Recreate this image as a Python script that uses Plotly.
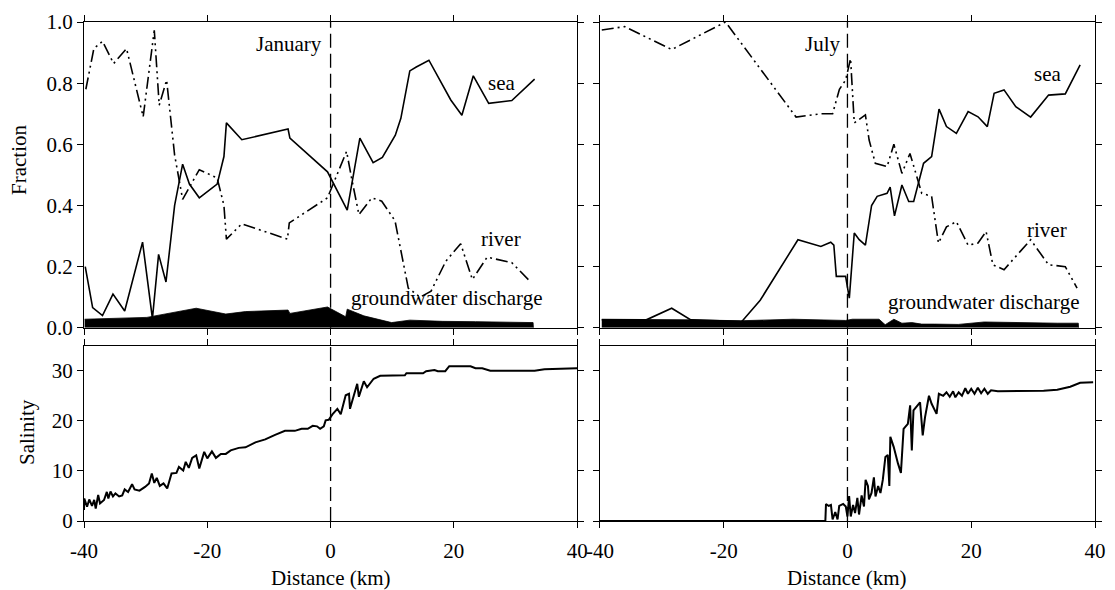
import plotly.graph_objects as go
from plotly.subplots import make_subplots

# ---------------- January fractions ----------------
jan_sea_x = [-39.8, -38.6, -37.0, -35.3, -33.4, -30.5, -28.9, -27.9, -26.7, -25.3, -24.0, -22.9, -21.3,
             -18.4, -17.3, -16.9, -14.4, -6.9, -6.6, -0.5, 2.7, 4.75, 6.9, 8.4, 10.5, 11.4, 12.85, 13.9,
             15.95, 17.4, 19.5, 21.3, 23.15, 25.65, 29.4, 33.1]
jan_sea_y = [0.20, 0.066, 0.04, 0.11, 0.055, 0.28, 0.03, 0.24, 0.15, 0.40, 0.535, 0.47, 0.425,
             0.47, 0.56, 0.67, 0.615, 0.65, 0.62, 0.51, 0.385, 0.62, 0.54, 0.557, 0.63, 0.685, 0.84, 0.853,
             0.875, 0.82, 0.745, 0.695, 0.824, 0.734, 0.743, 0.813]

jan_river_x = [-39.7, -38.4, -37.0, -35.2, -33.1, -30.4, -28.6, -27.8, -26.6, -25.3, -24.0, -21.3, -18.4,
               -17.3, -16.9, -14.4, -7.0, -6.7, -0.5, 2.6, 3.4, 4.6, 6.7, 8.3, 10.45, 12.6, 14.5, 16.3,
               18.7, 21.1, 23.0, 25.4, 29.4, 32.3]
jan_river_y = [0.78, 0.913, 0.937, 0.864, 0.913, 0.69, 0.973, 0.728, 0.81, 0.565, 0.42, 0.517, 0.49,
               0.40, 0.29, 0.34, 0.29, 0.343, 0.425, 0.577, 0.49, 0.37, 0.425, 0.414, 0.35, 0.13, 0.10, 0.12,
               0.218, 0.275, 0.158, 0.231, 0.213, 0.153]

jan_gw_x = [-39.9, -29.8, -21.8, -17.0, -13.8, -6.9, -6.6, -0.5, 2.45, 2.7, 5.4, 9.9, 12.85, 18.2, 23.5,
            32.85, 32.9]
jan_gw_y = [0.028, 0.034, 0.064, 0.045, 0.053, 0.058, 0.047, 0.068, 0.036, 0.061, 0.039, 0.017, 0.025,
            0.021, 0.02, 0.017, 0.0]

# ---------------- July fractions ----------------
jul_sea_x = [-39.7, -32.5, -28.4, -25.3, -17.1, -14.1, -8.0, -4.3, -2.7, -2.2, -1.8, -0.3, 0.3, 1.1, 1.9,
             2.9, 3.9, 4.8, 6.4, 6.9, 7.6, 8.8, 9.9, 10.7, 12.3, 13.6, 14.8, 16.0, 17.6, 19.5, 21.1, 22.6,
             23.7, 25.3, 27.2, 29.6, 32.5, 35.2, 37.6]
jul_sea_y = [0.026, 0.026, 0.064, 0.026, 0.02, 0.09, 0.288, 0.266, 0.28, 0.27, 0.168, 0.168, 0.097, 0.31,
             0.288, 0.27, 0.40, 0.43, 0.44, 0.46, 0.366, 0.467, 0.413, 0.413, 0.538, 0.56, 0.715, 0.658,
             0.636, 0.707, 0.69, 0.658, 0.767, 0.778, 0.723, 0.689, 0.761, 0.765, 0.86]

jul_river_x = [-39.7, -36.0, -28.4, -19.7, -8.3, -4.3, -2.4, -1.3, -0.3, 0.5, 1.1, 2.9, 3.5, 4.5, 6.4,
               7.5, 8.8, 10.1, 12.0, 13.6, 14.7, 16.0, 17.6, 19.5, 21.1, 22.4, 23.5, 25.3, 29.6, 32.5,
               35.2, 37.1]
jul_river_y = [0.974, 0.985, 0.91, 1.0, 0.689, 0.70, 0.70, 0.78, 0.81, 0.88, 0.67, 0.696, 0.614, 0.538,
               0.527, 0.60, 0.505, 0.57, 0.44, 0.43, 0.277, 0.33, 0.347, 0.27, 0.277, 0.315, 0.206, 0.19,
               0.288, 0.206, 0.20, 0.13]

jul_gw_x = [-39.7, -32.3, -25.3, -17.3, -8.8, -0.3, 0.8, 5.1, 6.1, 7.5, 8.8, 10.4, 12.0, 14.1, 17.9,
            22.1, 25.9, 33.9, 37.3, 37.35]
jul_gw_y = [0.028, 0.028, 0.026, 0.023, 0.028, 0.024, 0.028, 0.028, 0.01, 0.028, 0.015, 0.017, 0.012,
            0.012, 0.011, 0.019, 0.017, 0.015, 0.015, 0.0]

# ---------------- Salinity ----------------
jan_sal_x = [-40, -39.95, -39.5, -39.15, -38.7, -38.35, -38.1, -37.7, -37.4, -36.75, -36.3, -36.05, -35.7,
             -35.3, -34.9, -34.3, -33.8, -33.4, -32.85, -32.2, -31.8, -31.0, -30.1, -29.45, -29.0, -28.6,
             -28.2, -27.7, -27.1, -26.5, -25.8, -25.0, -24.6, -23.9, -23.5, -23.0, -22.45, -21.8, -21.3,
             -20.9, -20.5, -20.0, -19.25, -18.6, -17.8, -17.0, -16.2, -14.9, -13.8, -12.2, -10.6, -9.0,
             -7.4, -5.8, -4.7, -3.7, -2.9, -2.2, -1.7, -1.1, -0.8, -0.3, 0.3, 1.1, 1.65, 2.45, 2.99, 3.15,
             4.32, 4.59, 5.39, 5.92, 6.99, 8.05, 10.2, 12.05, 12.3, 15.0, 15.5, 16.85, 17.4, 18.6, 19.25,
             22.7, 23.5, 24.6, 25.9, 27.8, 33.1, 34.7, 40]
jan_sal_y = [2.2, 4.5, 2.85, 4.3, 3.0, 4.2, 2.5, 5.2, 3.5, 4.2, 5.8, 4.5, 5.9,
             4.9, 5.5, 4.9, 5.1, 6.3, 5.8, 7.35, 6.3, 6.05, 6.8, 7.5, 9.5, 7.6,
             8.6, 7.0, 7.5, 6.5, 9.5, 9.6, 10.8, 10.1, 11.8, 10.6, 12.6, 13.1, 10.5,
             12.2, 13.8, 12.5, 13.9, 12.6, 13.4, 13.4, 14.1, 14.6, 14.7, 15.7, 16.3, 17.2,
             18.0, 18.0, 18.4, 18.4, 19.0, 18.9, 18.4, 18.9, 20.1, 20.2, 21.3, 22.4, 21.3, 25.1, 25.4, 22.4,
             27.4, 24.8, 27.9, 26.7, 28.4, 29.0, 29.1, 29.1, 29.5, 29.5, 29.9, 30.15, 29.9, 29.9, 30.9,
             30.9, 30.5, 30.5, 30.0, 30.0, 30.0, 30.3, 30.5]

jul_sal_x = [-40, -3.57, -3.47, -3.04, -2.67, -2.4, -1.97, -1.6, -1.33, -0.69, -0.27, 0, 0.27, 0.53, 0.91,
             1.23, 1.6, 1.87, 2.29, 2.67, 2.93, 3.31, 3.47, 3.89, 4.27, 4.53, 4.96, 5.33, 5.71, 6.13, 6.51,
             6.77, 6.93, 7.47, 8.16, 8.64, 9.07, 9.76, 10.13, 10.4, 10.67, 11.73, 12.16, 12.53, 13.17, 13.6,
             14.4, 14.77, 15.47, 16.0, 16.53, 17.07, 17.44, 17.97, 18.5, 19.04, 19.47, 20.0, 20.53, 21.07,
             21.6, 22.13, 22.67, 23.2, 24.3, 26.4, 31.7, 33.9, 36.0, 37.6, 39.7]
jul_sal_y = [0, 0, 3.4, 3.0, 3.2, 0.3, 1.8, 0.3, 3.0, 3.4, 2.9, 0.9, 5.0, 0.9, 3.2,
             1.6, 4.6, 1.3, 5.1, 2.9, 8.2, 7.0, 4.3, 5.6, 8.7, 4.9, 7.0, 5.6, 8.2, 12.8, 13.2,
             7.0, 16.8, 14.8, 11.5, 9.6, 18.4, 19.4, 23.1, 14.1, 22.1, 23.7, 17.1, 20.7, 25.0, 23.4,
             21.4, 25.4, 25.0, 25.7, 24.8, 25.9, 24.7, 25.7, 25.0, 26.5, 25.4, 26.4, 25.4, 26.6,
             25.5, 26.4, 25.4, 26.1, 25.9, 25.9, 26.0, 26.2, 26.8, 27.6, 27.7]

for a, b in [(jan_sea_x, jan_sea_y), (jan_river_x, jan_river_y), (jan_gw_x, jan_gw_y),
             (jul_sea_x, jul_sea_y), (jul_river_x, jul_river_y), (jul_gw_x, jul_gw_y),
             (jan_sal_x, jan_sal_y), (jul_sal_x, jul_sal_y)]:
    assert len(a) == len(b), (len(a), len(b))

x_ticks = [-40, -20, 0, 20, 40]
x_tick_text = ["-40", "-20", "0", "20", "40"]
frac_ticks = [0.0, 0.2, 0.4, 0.6, 0.8, 1.0]
frac_tick_text = ["0.0", "0.2", "0.4", "0.6", "0.8", "1.0"]
sal_ticks = [0, 10, 20, 30]

FONT = "Liberation Serif, Times New Roman, serif"
RIVER_DASH = "12px,4px,2px,4px,2px,4px"
VLINE_DASH = "14px,6px"

fig = make_subplots(rows=2, cols=2)

def add_panel(row, col, sea_x, sea_y, river_x, river_y, gw_x, gw_y):
    fig.add_trace(go.Scatter(x=gw_x, y=gw_y, mode="lines", fill="tozeroy",
                             fillcolor="black", line=dict(color="black", width=0.8),
                             showlegend=False, hoverinfo="skip"), row=row, col=col)
    fig.add_trace(go.Scatter(x=river_x, y=river_y, mode="lines",
                             line=dict(color="black", width=1.6, dash=RIVER_DASH),
                             showlegend=False), row=row, col=col)
    fig.add_trace(go.Scatter(x=sea_x, y=sea_y, mode="lines",
                             line=dict(color="black", width=1.6),
                             showlegend=False), row=row, col=col)

add_panel(1, 1, jan_sea_x, jan_sea_y, jan_river_x, jan_river_y, jan_gw_x, jan_gw_y)
add_panel(1, 2, jul_sea_x, jul_sea_y, jul_river_x, jul_river_y, jul_gw_x, jul_gw_y)
fig.add_trace(go.Scatter(x=jan_sal_x, y=jan_sal_y, mode="lines",
                         line=dict(color="black", width=2), showlegend=False), row=2, col=1)
fig.add_trace(go.Scatter(x=jul_sal_x, y=jul_sal_y, mode="lines",
                         line=dict(color="black", width=2), showlegend=False), row=2, col=2)

axis_common = dict(showline=True, linecolor="black", linewidth=1.2, mirror="allticks",
                   ticks="outside", ticklen=6, tickcolor="black", tickwidth=1.2,
                   showgrid=False, zeroline=False,
                   tickfont=dict(family=FONT, size=21, color="black"))

xl = [0.0, 0.4878]
xr = [0.5103, 1.0]
yt = [0.3872, 1.0]
yb = [0.0, 0.3513]

fig.update_layout(
    xaxis=dict(domain=xl, range=[-40, 40], tickvals=x_ticks, showticklabels=False, **axis_common),
    xaxis2=dict(domain=xr, range=[-40, 40], tickvals=x_ticks, showticklabels=False, **axis_common),
    xaxis3=dict(domain=xl, range=[-40, 40], tickvals=x_ticks, ticktext=x_tick_text,
                ticklabelstandoff=5, **axis_common),
    xaxis4=dict(domain=xr, range=[-40, 40], tickvals=x_ticks, ticktext=x_tick_text,
                ticklabelstandoff=5, **axis_common),
    yaxis=dict(domain=yt, range=[0, 1], tickvals=frac_ticks, ticktext=frac_tick_text, **axis_common),
    yaxis2=dict(domain=yt, range=[0, 1], tickvals=frac_ticks, showticklabels=False, **axis_common),
    yaxis3=dict(domain=yb, range=[0, 35], tickvals=sal_ticks, **axis_common),
    yaxis4=dict(domain=yb, range=[0, 35], tickvals=sal_ticks, showticklabels=False, **axis_common),
)

# vertical dashed line at distance 0 in each panel
for xr_, yr_ in [("x", "y"), ("x2", "y2"), ("x3", "y3"), ("x4", "y4")]:
    fig.add_shape(type="line", xref=xr_, yref=yr_ + " domain", x0=0, x1=0, y0=0, y1=1,
                  line=dict(color="black", width=1.3, dash=VLINE_DASH))

tf = dict(family=FONT, size=21, color="black")
ann = [
    dict(x=-6.8, y=0.928, xref="x", yref="y", text="January"),
    dict(x=27.7, y=0.80, xref="x", yref="y", text="sea"),
    dict(x=27.7, y=0.29, xref="x", yref="y", text="river"),
    dict(x=18.8, y=0.098, xref="x", yref="y", text="groundwater discharge"),
    dict(x=-4.0, y=0.928, xref="x2", yref="y2", text="July"),
    dict(x=32.3, y=0.83, xref="x2", yref="y2", text="sea"),
    dict(x=32.2, y=0.32, xref="x2", yref="y2", text="river"),
    dict(x=22.0, y=0.085, xref="x2", yref="y2", text="groundwater discharge"),
    dict(x=0, y=-0.1138, xref="x3", yref="paper", text="Distance (km)"),
    dict(x=0, y=-0.1138, xref="x4", yref="paper", text="Distance (km)"),
    dict(x=-0.0637, y=0.7226, xref="paper", yref="paper", text="Fraction", textangle=-90),
    dict(x=-0.0558, y=0.1776, xref="paper", yref="paper", text="Salinity", textangle=-90),
]
for a in ann:
    fig.add_annotation(showarrow=False, font=tf, xanchor="center", yanchor="middle", **a)

fig.update_layout(
    width=1115, height=590,
    margin=dict(l=84, r=10, t=20, b=69),
    paper_bgcolor="white", plot_bgcolor="white",
    font=dict(family=FONT, color="black"),
    showlegend=False,
)

fig.write_html("out.html", config={"displayModeBar": False},
               post_script="document.body.style.margin='0';document.body.style.overflow='hidden';")
